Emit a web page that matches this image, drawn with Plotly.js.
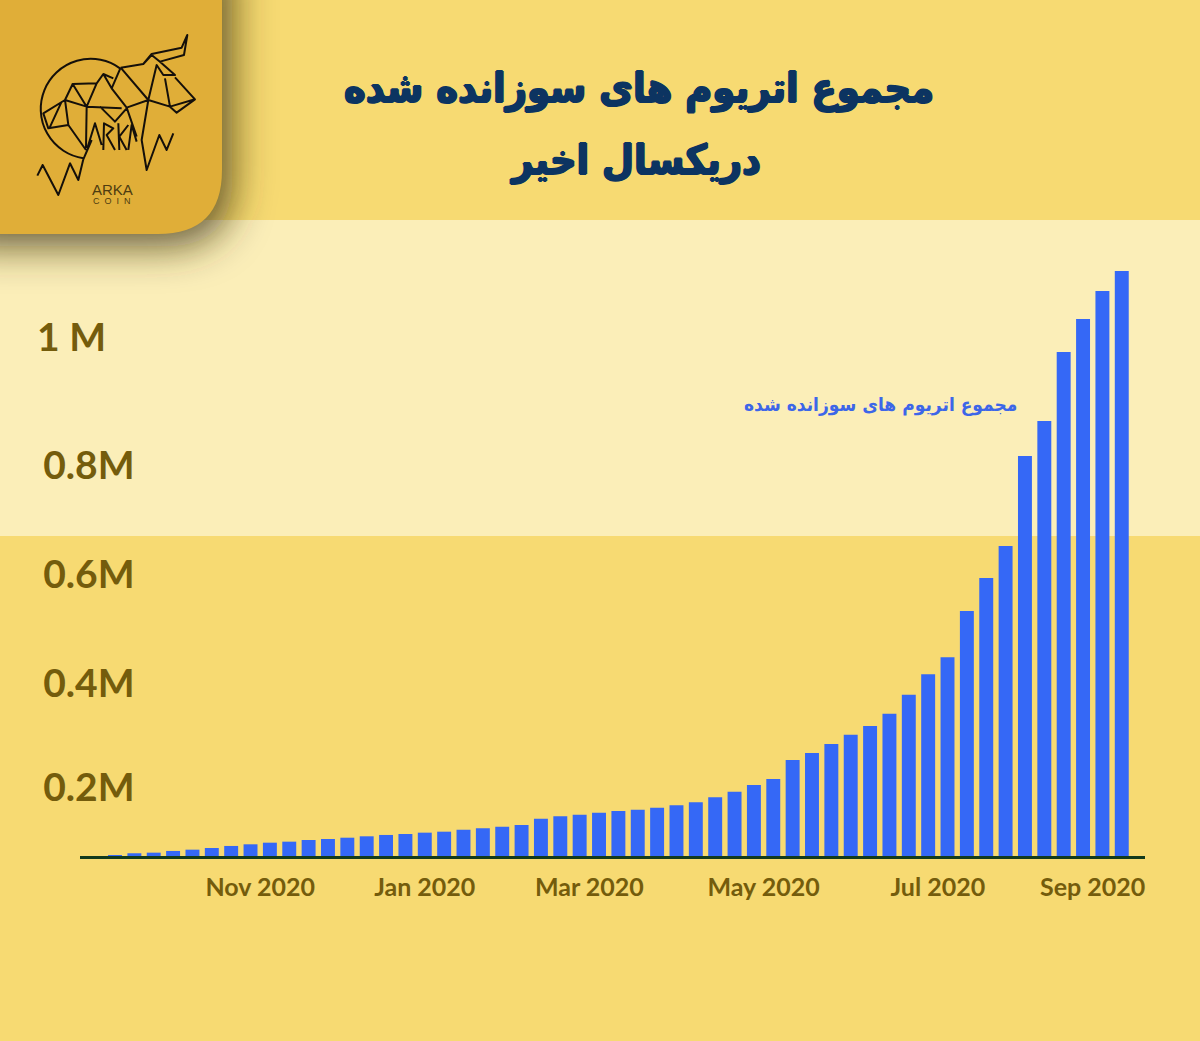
<!DOCTYPE html>
<html><head><meta charset="utf-8">
<script src="https://cdn.plot.ly/plotly-3.0.1.min.js"></script>
<style>html,body{margin:0;padding:0;background:#f7da72}</style>
</head><body><div id="chart" style="width:1200px;height:1041px"></div>
<script>
const titleLine1 = "مجموع اتریوم های سوزانده شده";
const titleLine2 = "دریکسال اخیر";
const seriesName = "مجموع اتریوم های سوزانده شده";
const burned = [0.0733,0.0765,0.0776,0.0808,0.0832,0.0863,0.0901,0.0932,0.0962,0.0981,
0.1012,0.1031,0.1055,0.1081,0.1106,0.1124,0.1149,0.1167,0.1204,0.1230,
0.1260,0.1292,0.1409,0.1454,0.1484,0.1521,0.1553,0.1577,0.1614,0.1659,
0.1715,0.1808,0.1912,0.2037,0.2149,0.2503,0.2634,0.2801,0.2974,0.3137,
0.3366,0.3720,0.4100,0.4417,0.5279,0.5894,0.6490,0.8167,0.8819,1.0105,
1.0720,1.1242,1.1614];
const weeks = burned.map((_, i) => i);
const xTickWeeks = [7.5,16,24.5,33.5,42.5,50.5];
const xTickLabels = ["Nov 2020","Jan 2020","Mar 2020","May 2020","Jul 2020","Sep 2020"];
const yTickVals = [0.2,0.394,0.597,0.8,1.037];
const yTickLabels = ["0.2M","0.4M","0.6M","0.8M","1 M\u00A0\u00A0\u00A0"];

const W = 1200, H = 1041;
const L = 80, T = 250, PW = 1065, PH = 606;
const fx = x => (x - L) / PW, fy = y => (T + PH - y) / PH;

// logo line art, traced in a 3x grid
const bull = [
 "M525 232L585 298L530 338L510 320L585 298M495 235L510 320M445 300L510 320",
 "M362 203L430 192L455 162L545 143L562 105L552 165L480 185L455 165L430 192M480 185L525 225L490 225L470 195L445 300L425 420L440 510L478 405L500 450L520 400",
 "M362 203L445 300L380 323L335 265L362 203M335 265L310 222L290 250L218 252L260 320L290 250M310 222L340 235M260 320L365 325M260 320L195 300L130 340L145 385L205 375L195 300M218 252L195 300M205 375L258 450M260 320L258 445M148 385L185 305M380 323L410 410M380 325L345 365L300 320",
 "M250 478L235 540L210 490L175 585L128 495L112 527M250 478L275 420",
 "M262 445L285 370L305 435M310 450L312 370L340 385L320 405L345 450M355 370L358 450M385 375L358 410L380 450M385 450L395 375L410 425",
 "M360 205A150 150 0 1 0 250 475"
];
const logoSvg = `<svg xmlns="http://www.w3.org/2000/svg" width="320" height="320" viewBox="0 0 320 320">
<defs><filter id="b" x="-30%" y="-30%" width="160%" height="160%"><feGaussianBlur stdDeviation="20"/></filter></defs>
<path filter="url(#b)" fill="#3e3414" fill-opacity="0.8" d="M-40 -40H232V180Q232 246 166 246H-40Z"/>
<path fill="#e0ae38" d="M0 0H222V170Q222 234 158 234H0Z"/>
<g transform="scale(0.3333)"><path fill="none" stroke="#15100a" stroke-width="6" stroke-linejoin="round" d="${bull.join(' ')}"/></g>
</svg>`;

const data = [{
  type: "bar", x: weeks, y: burned, name: seriesName, width: 0.72,
  marker: {color: "#3568f6", line: {width: 0}}, hoverinfo: "y"
}];
const heavy = "1px 0 #0c3461, -1px 0 #0c3461, 0 1px #0c3461, 0 -1px #0c3461";
const layout = {
  width: W, height: H, autosize: false, showlegend: false, dragmode: false,
  paper_bgcolor: "#f7da72", plot_bgcolor: "rgba(0,0,0,0)",
  margin: {l: L, r: W - L - PW, t: T, b: H - T - PH, pad: 0},
  font: {family: "Lato, sans-serif", color: "#745c0c"},
  title: {
    text: titleLine1, xref: "container", yref: "container", x: 639 / W, xanchor: "center",
    y: 1 - 88 / H, yanchor: "middle",
    font: {family: "'DejaVu Sans Condensed', 'DejaVu Sans', sans-serif", size: 41, weight: 700, color: "#0c3461", shadow: heavy}
  },
  xaxis: {
    range: [-1.808, 53.2], tickmode: "array", tickvals: xTickWeeks, ticktext: xTickLabels,
    showgrid: false, zeroline: false, showline: true, linecolor: "#123a1c", linewidth: 3,
    ticks: "", ticklabelstandoff: 7, tickfont: {family: "Lato, sans-serif", size: 25, weight: 700, color: "#745c0c"}
  },
  yaxis: {
    range: [0.0714, 1.2006], tickmode: "array", tickvals: yTickVals, ticktext: yTickLabels,
    anchor: "free", position: fx(134.5),
    showgrid: false, zeroline: false, showline: false, ticks: "",
    automargin: false, tickfont: {family: "Lato, sans-serif", size: 39, weight: 700, color: "#745c0c"}
  },
  shapes: [{type: "path", layer: "below", xref: "paper", yref: "paper", line: {width: 0}, fillcolor: "#fbeeb8",
            path: `M ${fx(0)} ${fy(220)} L ${fx(W)} ${fy(220)} L ${fx(W)} ${fy(536)} L ${fx(0)} ${fy(536)} Z`}],
  images: [{source: "data:image/svg+xml;charset=utf-8," + encodeURIComponent(logoSvg),
            xref: "paper", yref: "paper", x: fx(0), y: fy(0), sizex: 320 / PW, sizey: 320 / PH,
            xanchor: "left", yanchor: "top", sizing: "stretch", layer: "above"}],
  annotations: [
    {text: titleLine2, xref: "paper", yref: "paper", x: fx(635), y: fy(160), showarrow: false,
     xanchor: "center", yanchor: "middle",
     font: {family: "'DejaVu Sans Condensed', 'DejaVu Sans', sans-serif", size: 41, weight: 700, color: "#0c3461", shadow: heavy}},
    {text: seriesName, xref: "paper", yref: "paper", x: fx(880), y: fy(404), showarrow: false,
     xanchor: "center", yanchor: "middle", font: {family: "'DejaVu Sans Condensed', 'DejaVu Sans', sans-serif", size: 19, weight: 700, color: "#3d66e8"}},
    {text: "ARKA", xref: "paper", yref: "paper", x: fx(112), y: fy(189), showarrow: false,
     xanchor: "center", yanchor: "middle", font: {family: "'Liberation Sans', sans-serif", size: 15, color: "#4e3c10"}},
    {text: "C\u00A0\u00A0O\u00A0\u00A0I\u00A0\u00A0N", xref: "paper", yref: "paper", x: fx(112), y: fy(201), showarrow: false,
     xanchor: "center", yanchor: "middle", font: {family: "'Liberation Sans', sans-serif", size: 9, color: "#4e3c10"}}
  ]
};
Plotly.newPlot("chart", data, layout, {staticPlot: true, displayModeBar: false});
</script></body></html>
